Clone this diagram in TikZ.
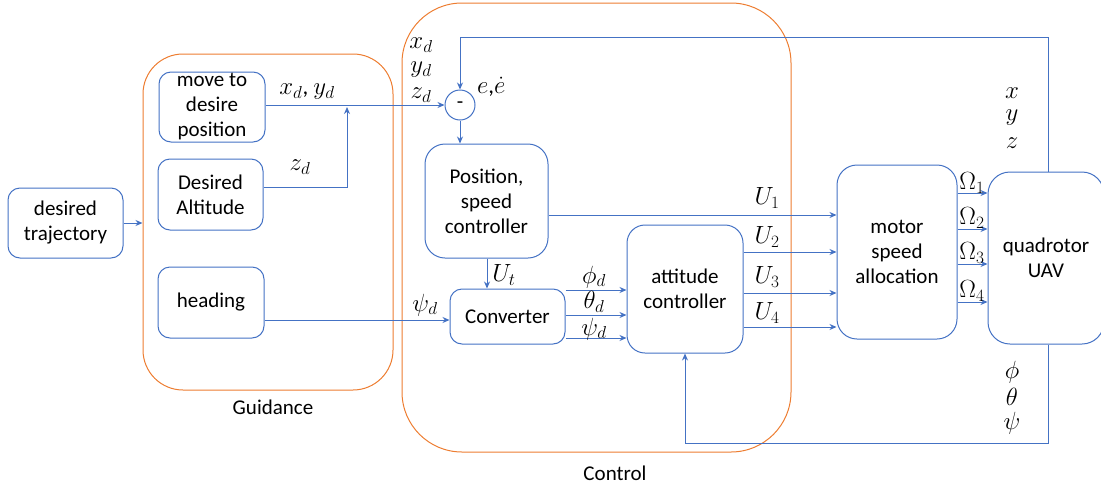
\documentclass[tikz,border=0pt]{standalone}
\usepackage{amsmath,amssymb}
\usepackage{fontspec}
\setmainfont{Carlito}
\usetikzlibrary{arrows.meta}

\definecolor{uavblue}{HTML}{4472C4}
\definecolor{uavorange}{HTML}{ED7D31}

\tikzset{
  blk/.style={draw=uavblue, line width=1pt, rounded corners=12pt, align=center,
    inner sep=0pt, font=\fontsize{21}{25}\selectfont},
  grp/.style={draw=uavorange, line width=1pt, inner sep=0pt},
  lbl/.style={inner sep=0pt, font=\fontsize{21}{25}\selectfont},
  mlbl/.style={inner sep=0pt, font=\fontsize{23}{25}\selectfont},
  arr/.style={draw=uavblue, line width=1pt, -{Stealth[length=7pt,width=6pt]}},
  ln/.style={draw=uavblue, line width=1pt}
}

\begin{document}
\begin{tikzpicture}[x=1pt, y=-1pt]
    \useasboundingbox (0,0) rectangle (1101,488);

    % Groups
    \node[grp, rounded corners=40pt, minimum width=250pt, minimum height=336pt] (guid) at (268,222) {};
    \node[lbl] (guidtxt) at (273,407) {Guidance};
    \node[grp, rounded corners=60pt, minimum width=389pt, minimum height=449pt] (ctrl) at (596.5,227.5) {};
    \node[lbl] (ctrltxt) at (615,473) {Control};

    % Blocks
    \node[blk, minimum width=115pt, minimum height=70pt] (traj) at (65.5,223) {desired\\trajectory};
    \node[blk, minimum width=106pt, minimum height=70pt] (move) at (212,107) {move to\\desire\\position};
    \node[blk, minimum width=105pt, minimum height=71pt] (alt) at (210.5,194.5) {Desired\\Altitude};
    \node[blk, minimum width=106pt, minimum height=71pt] (head) at (211,302.5) {heading};
    \node[blk, circle, rounded corners=0pt, minimum size=30pt] (sum) at (460,105) {-};
    \node[blk, minimum width=123pt, minimum height=114pt, rounded corners=20pt] (psc) at (486.5,201) {Position,\\speed\\controller};
    \node[blk, minimum width=115pt, minimum height=55pt] (conv) at (507.5,316.5) {Converter};
    \node[blk, minimum width=116pt, minimum height=128pt, rounded corners=18pt] (att) at (685,289) {attitude\\controller};
    \node[blk, minimum width=120pt, minimum height=174pt, rounded corners=20pt] (msa) at (897,252) {motor\\speed\\allocation};
    \node[blk, minimum width=116pt, minimum height=172pt, rounded corners=22pt] (uav) at (1046,258) {quadrotor\\UAV};

    % Guidance connections
    \draw[arr] (traj) -- (guid.west |- traj);
    \coordinate (jn) at (347,107);
    \draw[arr] (move.east |- sum) -- (sum);
    \draw[arr] (alt.east |- 0,187) -| (jn);
    \draw[arr] (head.east |- 0,320) -- (conv.west |- 0,320);

    % Control connections
    \draw[arr] (sum) -- (sum |- psc.north);
    \draw[arr] (psc.south -| 487,0) -- (conv.north -| 487,0);
    \foreach \yy in {290,315,338}
        \draw[arr] (conv.east |- 0,\yy) -- (att.west |- 0,\yy);
    \draw[arr] (psc.east |- 0,215) -- (msa.west |- 0,215);
    \foreach \yy in {252,293,327}
        \draw[arr] (att.east |- 0,\yy) -- (msa.west |- 0,\yy);
    \foreach \yy in {193,229,264,302}
        \draw[arr] (msa.east |- 0,\yy) -- (uav.west |- 0,\yy);

    % Feedback loops
    \coordinate (fbtop) at (1048,37);
    \coordinate (fbbot) at (1048,443);
    \draw[ln] (uav.north -| fbtop) -- (fbtop);
    \draw[arr] (fbtop) -| (sum);
    \draw[arr] (uav.south -| fbbot) -- (fbbot) -| (att);

    % Labels
    \node[mlbl] (lxy) at (307,92) {$x_d$, $y_d$};
    \node[mlbl] (lz) at (300,167) {$z_d$};
    \node[mlbl] (lxd) at (421,45) {$x_d$};
    \node[mlbl] (lyd) at (421,70) {$y_d$};
    \node[mlbl] (lzd) at (421,95) {$z_d$};
    \node[mlbl, anchor=west] (lerr) at (477,87) {$e$,$\dot{e}$};
    \node[mlbl] (lut) at (504,275) {$U_t$};
    \node[mlbl] (lpsi) at (425,305) {$\psi_d$};
    \node[mlbl] (lphid) at (594,277) {$\phi_d$};
    \node[mlbl] (lthd) at (594,302) {$\theta_d$};
    \node[mlbl] (lpsid) at (594,329) {$\psi_d$};
    \node[mlbl] (lu1) at (767,198) {$U_1$};
    \node[mlbl] (lu2) at (767,237) {$U_2$};
    \node[mlbl] (lu3) at (767,277) {$U_3$};
    \node[mlbl] (lu4) at (767,313) {$U_4$};
    \node[mlbl] (lw1) at (972,183) {$\Omega_1$};
    \node[mlbl] (lw2) at (972,218) {$\Omega_2$};
    \node[mlbl] (lw3) at (972,253) {$\Omega_3$};
    \node[mlbl] (lw4) at (972,291) {$\Omega_4$};
    \node[mlbl] (lx) at (1012,93) {$x$};
    \node[mlbl] (ly) at (1012,118) {$y$};
    \node[mlbl] (lzz) at (1012,143) {$z$};
    \node[mlbl] (lphi) at (1012,372) {$\phi$};
    \node[mlbl] (ltheta) at (1012,397) {$\theta$};
    \node[mlbl] (lpsii) at (1012,423) {$\psi$};
\end{tikzpicture}
\end{document}
